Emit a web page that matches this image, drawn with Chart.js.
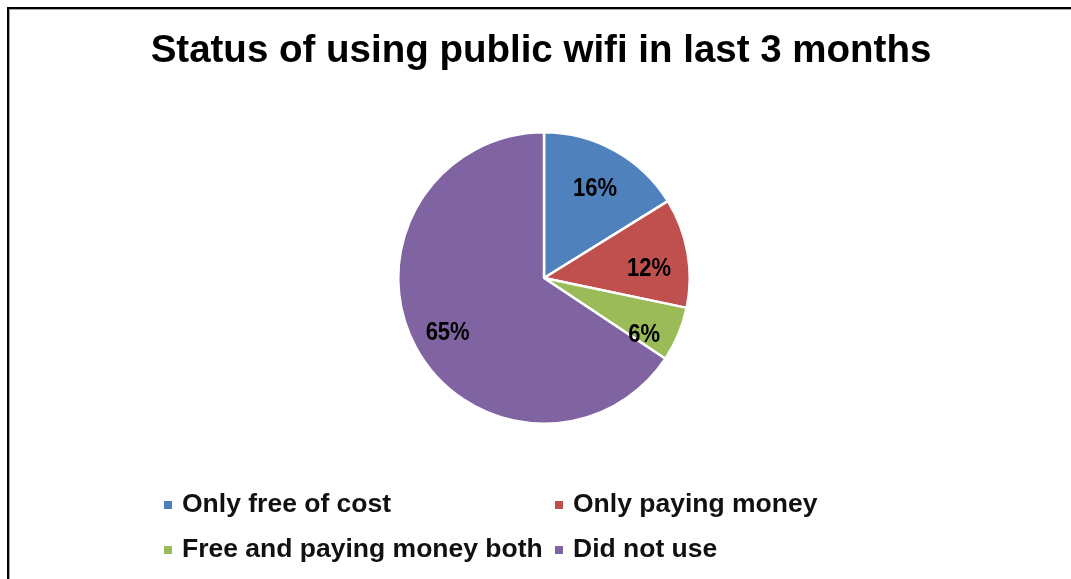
<!DOCTYPE html>
<html>
<head>
<meta charset="utf-8">
<script src="https://cdn.jsdelivr.net/npm/chart.js@4/dist/chart.umd.min.js"></script>
<style>
  html, body { margin: 0; padding: 0; background: #fff; }
  #wrap { position: relative; width: 1071px; height: 579px; }
  canvas { display: block; }
</style>
</head>
<body>
<div id="wrap"><canvas id="c" width="1071" height="579"></canvas></div>
<script>
// Survey answers: use of public wifi during the last three months (percent)
const titleText = 'Status of using public wifi in last 3 months';
const categories = ['Only free of cost', 'Only paying money', 'Free and paying money both', 'Did not use'];
const shares = [16, 12, 6, 65];
const sliceColors = ['#4F81BD', '#C0504D', '#9BBB59', '#8064A2'];

const FONT = '"Liberation Sans", Arial, sans-serif';

// Frame and title drawn on the canvas background
const framePlugin = {
  id: 'frame',
  beforeDraw(chart) {
    const ctx = chart.ctx;
    ctx.save();
    ctx.fillStyle = '#ffffff';
    ctx.fillRect(0, 0, chart.width, chart.height);
    ctx.fillStyle = '#000000';
    ctx.fillRect(7, 7, chart.width - 7, 2);
    ctx.fillRect(7, 7, 2, chart.height - 7);
    ctx.fillStyle = '#a8a8a8';
    ctx.fillRect(9, 9, chart.width - 9, 1);
    ctx.fillRect(9, 9, 1, chart.height - 9);

    ctx.fillStyle = '#000000';
    ctx.font = 'bold 38.5px ' + FONT;
    ctx.textAlign = 'center';
    ctx.textBaseline = 'alphabetic';
    ctx.fillText(titleText, 541, 62);
    ctx.restore();
  }
};

// Percentage labels inside the slices (slightly narrowed glyphs)
const labelStyle = [
  { r: 0.72, shift: 0 },
  { r: 0.725, shift: 3.5 },
  { r: 0.78, shift: 5.5 },
  { r: 0.75, shift: 0 }
];
const sliceLabelPlugin = {
  id: 'sliceLabels',
  afterDatasetsDraw(chart) {
    const ctx = chart.ctx;
    const meta = chart.getDatasetMeta(0);
    meta.data.forEach((arc, i) => {
      const p = arc.getProps(['x', 'y', 'startAngle', 'endAngle', 'outerRadius'], true);
      const st = labelStyle[i];
      const a = (p.startAngle + p.endAngle) / 2 + st.shift * Math.PI / 180;
      const rr = p.outerRadius * st.r;
      ctx.save();
      ctx.translate(p.x + Math.cos(a) * rr, p.y + Math.sin(a) * rr + 3);
      ctx.scale(0.88, 1);
      ctx.fillStyle = '#000000';
      ctx.font = 'bold 25px ' + FONT;
      ctx.textAlign = 'center';
      ctx.textBaseline = 'middle';
      ctx.fillText(shares[i] + '%', 0, 0);
      ctx.restore();
    });
  }
};

// Two-column legend below the pie
const legendLayout = { cols: [164, 555], rows: [512, 557], box: 8, gap: 18 };
const legendPlugin = {
  id: 'gridLegend',
  afterDraw(chart) {
    const ctx = chart.ctx;
    ctx.save();
    ctx.font = 'bold 26.5px ' + FONT;
    ctx.textAlign = 'left';
    ctx.textBaseline = 'alphabetic';
    categories.forEach((name, i) => {
      const x = legendLayout.cols[i % 2];
      const y = legendLayout.rows[Math.floor(i / 2)];
      ctx.fillStyle = sliceColors[i];
      ctx.fillRect(x, y - 11, legendLayout.box, legendLayout.box);
      ctx.fillStyle = '#111111';
      ctx.fillText(name, x + legendLayout.gap, y);
    });
    ctx.restore();
  }
};

new Chart(document.getElementById('c'), {
  type: 'pie',
  data: {
    labels: categories,
    datasets: [{
      data: shares,
      backgroundColor: sliceColors,
      borderColor: '#ffffff',
      borderWidth: 2.5
    }]
  },
  options: {
    responsive: false,
    animation: false,
    layout: { padding: { top: 131, bottom: 154, left: 397, right: 380 } },
    plugins: {
      legend: { display: false },
      title: { display: false },
      tooltip: { enabled: false }
    }
  },
  plugins: [framePlugin, sliceLabelPlugin, legendPlugin]
});
</script>
</body>
</html>
